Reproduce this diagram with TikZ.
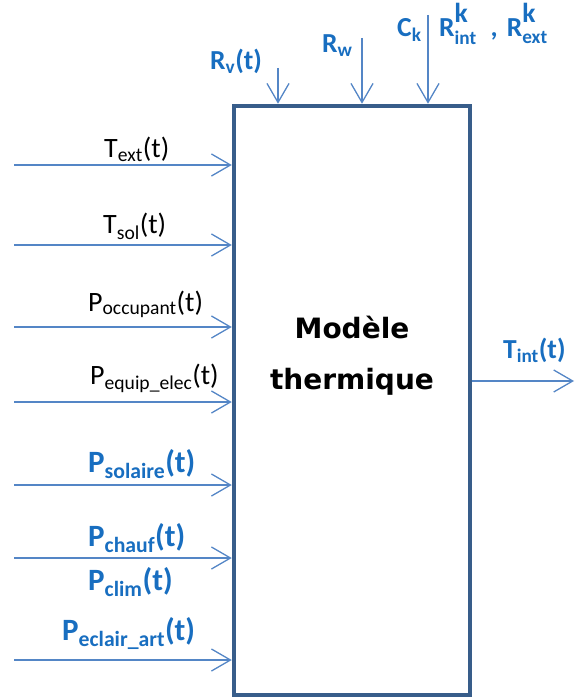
\documentclass[tikz,border=0pt]{standalone}
\usepackage{amsmath}
\usepackage{fontspec}
\setmainfont{Carlito}
\newfontfamily\titlefont{DejaVu Sans}
\usetikzlibrary{arrows.meta,positioning}
\definecolor{thermblue}{RGB}{24,110,192}
\definecolor{thermline}{RGB}{84,134,198}
\definecolor{thermedge}{RGB}{56,93,138}

\begin{document}
\begin{tikzpicture}[
  x=1pt, y=-1pt,
  model/.style={rectangle, draw=thermedge, line width=4.5pt, fill=white, inner sep=0pt, minimum width=236pt, minimum height=589pt},
  arrow/.style={-{Straight Barb[length=19pt,width=22pt]}, thermline, line width=1.3pt},
  thin/.style={anchor=base west, inner sep=0pt, font=\fontsize{28}{32}\selectfont},
  var/.style={anchor=base west, inner sep=0pt, text=thermblue, font=\fontsize{31}{36}\selectfont\bfseries},
  param/.style={var, font=\fontsize{27.5}{32}\selectfont\bfseries}
]
\useasboundingbox (0,0) rectangle (574,700);

% Thermal model block
\node[model] (model) at (352,400.5) {};
\node[font=\titlefont\fontsize{28}{51}\selectfont\bfseries, align=center] (title) at (352,356) {Modèle\\thermique};

% Input points
\coordinate (text) at (14,165);
\coordinate (tsol) at (14,245);
\coordinate (pocc) at (14,327);
\coordinate (pequip) at (14,402);
\coordinate (psol) at (14,485);
\coordinate (pchauf) at (14,558);
\coordinate (pecl) at (14,660);
\coordinate (rv) at (278,68);
\coordinate (rw) at (362,38);
\coordinate (ck) at (428,15);
\coordinate (tint) at (574,381);

% Inputs
\draw[arrow] (text) -- (text -| model.west);
\draw[arrow] (tsol) -- (tsol -| model.west);
\draw[arrow] (pocc) -- (pocc -| model.west);
\draw[arrow] (pequip) -- (pequip -| model.west);
\draw[arrow] (psol) -- (psol -| model.west);
\draw[arrow] (pchauf) -- (pchauf -| model.west);
\draw[arrow] (pecl) -- (pecl -| model.west);
\draw[arrow] (rv) -- (rv |- model.north);
\draw[arrow] (rw) -- (rw |- model.north);
\draw[arrow] (ck) -- (ck |- model.north);

% Output
\draw[arrow] (model.east |- tint) -- (tint);

% Labels
\node[thin] (ltext) at (104,158) {$\text{T}_{\text{ext}}\text{(t)}$};
\node[thin] (ltsol) at (103,234) {$\text{T}_{\text{sol}}\text{(t)}$};
\node[thin] (lpocc) at (88,311) {$\text{P}_{\text{occupant}}\text{(t)}$};
\node[thin] (lpequip) at (90,384) {$\text{P}_{\text{equip\_elec}}\text{(t)}$};
\node[var] (lpsol) at (88,472) {$\text{P}_{\text{solaire}}\text{(t)}$};
\node[var] (lpchauf) at (88,546) {$\text{P}_{\text{chauf}}\text{(t)}$};
\node[var] (lpclim) at (88,590) {$\text{P}_{\text{clim}}\text{(t)}$};
\node[var] (lpecl) at (62,640) {$\text{P}_{\text{eclair\_art}}\text{(t)}$};
\node[param] (lrv) at (210,70) {$\text{R}_{\text{v}}\text{(t)}$};
\node[param] (lrw) at (322,53) {$\text{R}_{\text{w}}$};
\node[param] (lck) at (397,37) {$\text{C}_{\text{k}}$};
\node[param] (lrk) at (439,37) {$\text{R}^{\raisebox{5pt}{\text{k}}}_{\text{int}}$\hspace{14pt},\hspace{9pt}$\text{R}^{\raisebox{5pt}{\text{k}}}_{\text{ext}}$};
\node[param] (ltint) at (503,358) {$\text{T}_{\text{int}}\text{(t)}$};

\end{tikzpicture}
\end{document}
